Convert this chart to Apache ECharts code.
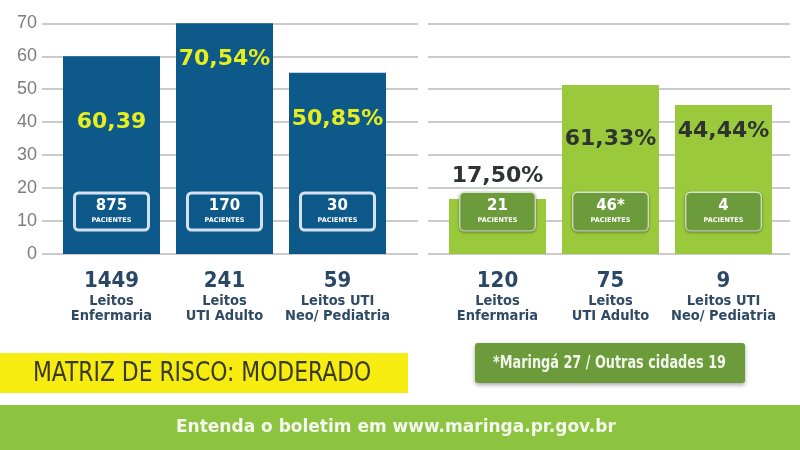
<!DOCTYPE html>
<html lang="pt-BR">
<head>
    <meta charset="UTF-8">
    <title>Ocupação de leitos</title>
    <script src="https://cdn.jsdelivr.net/npm/echarts@6/dist/echarts.min.js"></script>
</head>
<body style="height: 100%; margin: 0; background: #ffffff">
<div id="chart" style="width: 800px; height: 450px"></div>

<script>
    // ---- data ----
    let bedsLeft = [1449, 241, 59];
    let bedsRight = [120, 75, 9];
    let bedType = ['Leitos\nEnfermaria', 'Leitos\nUTI Adulto', 'Leitos UTI\nNeo/ Pediatria'];
    // bar heights as drawn on the 0..70 scale
    let heightLeft = [60, 70, 55];
    let heightRight = [16.7, 51.3, 45.2];
    // texts printed on the bars
    let pctLeft = ['60,39', '70,54%', '50,85%'];
    let pctRight = ['17,50%', '61,33%', '44,44%'];
    let patLeft = ['875', '170', '30'];
    let patRight = ['21', '46*', '4'];
    let yTicks = [0, 10, 20, 30, 40, 50, 60, 70];

    // label placement (px from the bar top), kept apart from the data
    let dyLeft = [66, 36, 47];
    let dyRight = [-23, 54, 26];

    const BLUE = '#0c598a';
    const GREEN = '#9aca3c';
    const BOX_GREEN = '#6b9b3a';
    const NARROW = "'DejaVu Sans Condensed', 'Liberation Sans Narrow', sans-serif";
    const WIDE = "'DejaVu Sans', 'Verdana', sans-serif";

    let catLabels = function (beds) {
        return beds.map(function (b, i) {
            return b + '\n' + bedType[i];
        });
    };

    let catAxisLabel = {
        interval: 0,
        margin: 15,
        formatter: function (v) {
            let parts = v.split('\n');
            let out = '{n|' + parts[0] + '}';
            for (let i = 1; i < parts.length; i++) out += '\n{t|' + parts[i] + '}';
            return out;
        },
        rich: {
            n: {fontFamily: NARROW, fontWeight: 'bold', fontSize: 22, lineHeight: 24, color: '#2a4865'},
            t: {fontFamily: NARROW, fontWeight: 'bold', fontSize: 14.5, lineHeight: 15.5, color: '#2e4a64'}
        }
    };

    function pctData(heights, pcts, dys) {
        return heights.map(function (h, i) {
            return {
                value: h,
                label: {formatter: pcts[i], position: ['50%', dys[i]]}
            };
        });
    }

    function boxLabel(fill, border, shadow) {
        return {
            show: true,
            position: 'insideBottom',
            distance: 24,
            width: 74,
            padding: [5, 0, 5, 0],
            backgroundColor: fill,
            borderColor: border,
            borderWidth: 1.5,
            borderRadius: 4,
            shadowColor: shadow,
            shadowBlur: shadow ? 3 : 0,
            shadowOffsetY: shadow ? 1 : 0,
            rich: {
                n: {fontFamily: WIDE, fontWeight: 'bold', fontSize: 15, lineHeight: 17, color: '#ffffff', align: 'center', width: 74},
                p: {fontFamily: WIDE, fontWeight: 'bold', fontSize: 6.5, lineHeight: 10, color: '#ffffff', align: 'center', width: 74}
            }
        };
    }

    function boxData(heights, pats) {
        return heights.map(function (h, i) {
            return {value: h, label: {formatter: '{n|' + pats[i] + '}\n{p|PACIENTES}'}};
        });
    }

    let gridTop = 23.3, gridBottom = 196;

    let option = {
        animation: false,
        backgroundColor: '#ffffff',
        grid: [
            {left: 42, right: 382, top: gridTop, bottom: gridBottom},
            {left: 428, right: 10, top: gridTop, bottom: gridBottom},
            {left: 55, right: 406, top: gridTop, bottom: gridBottom},
            {left: 441, right: 20, top: gridTop, bottom: gridBottom}
        ],
        xAxis: [
            {gridIndex: 0, type: 'category', data: [''], show: false},
            {gridIndex: 1, type: 'category', data: [''], show: false},
            {gridIndex: 2, type: 'category', data: catLabels(bedsLeft),
                axisLine: {show: false}, axisTick: {show: false}, axisLabel: catAxisLabel},
            {gridIndex: 3, type: 'category', data: catLabels(bedsRight),
                axisLine: {show: false}, axisTick: {show: false}, axisLabel: catAxisLabel}
        ],
        yAxis: [
            {gridIndex: 0, type: 'value', min: yTicks[0], max: yTicks[yTicks.length - 1], interval: 10,
                axisLine: {show: false}, axisTick: {show: false},
                axisLabel: {margin: 5, color: '#7d7d7d', fontSize: 18, fontFamily: "'Liberation Sans', Arial, sans-serif"},
                splitLine: {lineStyle: {color: '#cbcbcb', width: 2}}},
            {gridIndex: 1, type: 'value', min: 0, max: 70, interval: 10,
                axisLine: {show: false}, axisTick: {show: false}, axisLabel: {show: false},
                splitLine: {lineStyle: {color: '#cbcbcb', width: 2}}},
            {gridIndex: 2, type: 'value', min: 0, max: 70, show: false},
            {gridIndex: 3, type: 'value', min: 0, max: 70, show: false}
        ],
        series: [
            {
                name: 'Ocupação SUS', type: 'bar', xAxisIndex: 2, yAxisIndex: 2,
                barWidth: 97, barGap: '-100%',
                itemStyle: {color: BLUE},
                label: {show: true, align: 'center', verticalAlign: 'middle',
                    fontFamily: WIDE, fontWeight: 'bold', fontSize: 22, color: '#e6ee1e'},
                data: pctData(heightLeft, pctLeft, dyLeft)
            },
            {
                name: 'Pacientes SUS', type: 'bar', xAxisIndex: 2, yAxisIndex: 2,
                barWidth: 97, barGap: '-100%',
                itemStyle: {color: 'rgba(0,0,0,0)'},
                label: boxLabel('rgba(0,0,0,0)', '#d3e2ee', null),
                data: boxData(heightLeft, patLeft),
                z: 3
            },
            {
                name: 'Ocupação particular', type: 'bar', xAxisIndex: 3, yAxisIndex: 3,
                barWidth: 97, barGap: '-100%',
                itemStyle: {color: GREEN},
                label: {show: true, align: 'center', verticalAlign: 'middle',
                    fontFamily: WIDE, fontWeight: 'bold', fontSize: 22, color: '#2f3431'},
                data: pctData(heightRight, pctRight, dyRight)
            },
            {
                name: 'Pacientes particular', type: 'bar', xAxisIndex: 3, yAxisIndex: 3,
                barWidth: 97, barGap: '-100%',
                itemStyle: {color: 'rgba(0,0,0,0)'},
                label: boxLabel(BOX_GREEN, '#e2edd4', 'rgba(0,0,0,0.35)'),
                data: boxData(heightRight, patRight),
                z: 3
            }
        ],
        graphic: [
            {type: 'rect', x: 0, y: 353, shape: {width: 408, height: 40}, style: {fill: '#f7ec10'}},
            {type: 'text', x: 33, y: 374, scaleX: 0.9, style: {
                text: 'MATRIZ DE RISCO: MODERADO', fill: '#3a3922', verticalAlign: 'middle',
                font: "27px " + NARROW}},
            {type: 'rect', x: 475, y: 343, shape: {width: 270, height: 40, r: 3},
                style: {fill: BOX_GREEN, shadowColor: 'rgba(0,0,0,0.35)', shadowBlur: 4, shadowOffsetY: 2}},
            {type: 'text', x: 493, y: 364, scaleX: 0.84, style: {
                text: '*Maringá 27 / Outras cidades 19', fill: '#f2f6ec', verticalAlign: 'middle',
                font: "bold 17px " + NARROW}},
            {type: 'rect', x: 0, y: 405, shape: {width: 800, height: 45}, style: {fill: '#8dc43f'}},
            {type: 'text', x: 176, y: 428, style: {
                text: 'Entenda o boletim em www.maringa.pr.gov.br', fill: '#f4f8ee', verticalAlign: 'middle',
                font: "bold 17px " + WIDE}}
        ]
    };

    let myChart = echarts.init(document.getElementById('chart'));
    myChart.setOption(option);
</script>
</body>
</html>
